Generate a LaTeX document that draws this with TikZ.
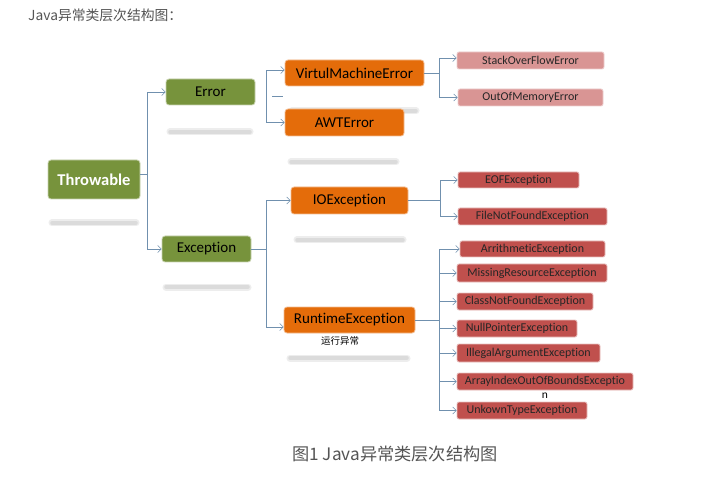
\documentclass[tikz,border=0pt]{standalone}
\usepackage{fontspec}
\setmainfont{Carlito}[Ligatures={NoCommon,NoContextual}]
\newfontfamily\cjk{Noto Sans CJK SC}
\usetikzlibrary{arrows.meta}
\definecolor{grn}{HTML}{77933C}
\definecolor{org}{HTML}{E46C0A}
\definecolor{pnk}{HTML}{D99594}
\definecolor{rd}{HTML}{C0504D}
\definecolor{ln}{HTML}{7090AE}
\definecolor{txtg}{HTML}{555555}
\tikzset{
  box/.style={rounded corners=3pt, inner sep=0pt, text=black, font=\fontsize{15}{17}\selectfont},
  gbox/.style={box, fill=grn, draw=grn!40, line width=0.8pt},
  obox/.style={box, fill=org, draw=org!45, line width=0.8pt},
  pbox/.style={box, rounded corners=2pt, fill=pnk, draw=pnk!45, line width=0.8pt, font=\fontsize{12}{14}\selectfont, text=black!85},
  rbox/.style={box, rounded corners=2pt, fill=rd, draw=rd!35, line width=0.8pt, font=\fontsize{12}{14}\selectfont, text=black!85},
  conn/.style={draw=ln, line width=0.6pt},
  arr/.style={conn, -{Straight Barb[length=3.5pt,width=7pt]}},
  shad/.style={line cap=round, line width=7pt, draw=black!7},
  shadin/.style={line cap=round, line width=3.5pt, draw=black!14},
}
\begin{document}
\begin{tikzpicture}[x=1pt,y=-1pt]
\useasboundingbox[fill=white] (0,0) rectangle (707,481);
% title and caption
\node[anchor=west, inner sep=0pt, text=txtg, font=\cjk\fontsize{13.8}{15}\selectfont] (title) at (28,15) {Java异常类层次结构图：};
\node[inner sep=0pt, text=txtg, font=\cjk\fontsize{17.2}{20}\selectfont] (cap) at (395,454) {图1 Java异常类层次结构图};
% reflections
\foreach \a/\b/\y in {52/136/223, 170/250/132, 166/248/287, 292/416/111, 291/396/162, 297/403/240, 290/407/358}{
  \draw[shad] (\a,\y) -- (\b,\y);
  \draw[shadin] (\a,\y) -- (\b,\y);
}
% nodes
\node[gbox, minimum width=92, minimum height=39, text=white, font=\bfseries\fontsize{16.5}{19}\selectfont] (thr) at (94,179.5) {Throwable};
\node[gbox, minimum width=89, minimum height=26] (err) at (210.5,92) {Error};
\node[gbox, minimum width=89, minimum height=26] (exc) at (206.5,249) {Exception};
\node[obox, minimum width=139, minimum height=26] (vme) at (354.5,73) {VirtulMachineError};
\node[obox, minimum width=119, minimum height=27] (awt) at (344.5,122.5) {AWTError};
\node[obox, minimum width=117, minimum height=27] (ioe) at (349.5,200.5) {IOException};
\node[obox, minimum width=131, minimum height=26] (rte) at (349.5,320) {RuntimeException};
\node[inner sep=0pt, font=\cjk\fontsize{9.5}{11}\selectfont] (rtel) at (340,341) {运行异常};
\node[pbox, minimum width=147, minimum height=17] (sof) at (530.5,60.5) {StackOverFlowError};
\node[pbox, minimum width=145, minimum height=17] (oom) at (530.5,97.5) {OutOfMemoryError};
\node[rbox, minimum width=121, minimum height=16] (eof) at (518.5,180) {EOFException};
\node[rbox, minimum width=149, minimum height=17] (fnf) at (532.5,216.5) {FileNotFoundException};
\node[rbox, minimum width=145, minimum height=16] (ari) at (532.5,249) {ArrithmeticException};
\node[rbox, minimum width=150, minimum height=18] (mis) at (532,273) {MissingResourceException};
\node[rbox, minimum width=136, minimum height=17] (cnf) at (525,301.5) {ClassNotFoundException};
\node[rbox, minimum width=120, minimum height=17] (npe) at (517,328.5) {NullPointerException};
\node[rbox, minimum width=143, minimum height=18] (iae) at (528.5,353) {IllegalArgumentException};
\node[rbox, minimum width=176, minimum height=17] (aio) at (545,381.5) {ArrayIndexOutOfBoundsExceptio};
\node[inner sep=0pt, font=\fontsize{11.5}{13}\selectfont] (aion) at (545,396) {n};
\node[rbox, minimum width=130, minimum height=17] (ute) at (522,410.5) {UnkownTypeException};
% junctions
\coordinate (j0) at (147,174);
\coordinate (j1) at (266,96);
\coordinate (j1d) at (283,96);
\coordinate (j2) at (439,73);
\coordinate (j3) at (266,249);
\coordinate (j4) at (440,200.5);
\coordinate (j5) at (439,320);
% connectors
\draw[conn] ([yshift=5.5pt]thr.east) -- (j0);
\draw[arr] (j0) |- (err.west);
\draw[arr] (j0) |- (exc.west);
\draw[conn] ([xshift=6pt]j1) -- (j1d);
\draw[arr] (j1) |- ([yshift=3pt]vme.west);
\draw[arr] (j1) |- (awt.west);
\draw[conn] (vme.east) -- (j2);
\draw[arr] (j2) |- ([yshift=2.5pt]sof.west);
\draw[arr] (j2) |- (oom.west);
\draw[conn] (exc.east) -- (j3);
\draw[arr] (j3) |- (ioe.west);
\draw[arr] (j3) |- ([yshift=-7pt]rte.west);
\draw[conn] (ioe.east) -- (j4);
\draw[arr] (j4) |- (eof.west);
\draw[arr] (j4) |- (fnf.west);
\draw[conn] (rte.east) -- (j5);
\foreach \n in {ari,mis,cnf,npe,iae,aio,ute}{
  \draw[arr] (j5) |- (\n.west);
}
\end{tikzpicture}
\end{document}
